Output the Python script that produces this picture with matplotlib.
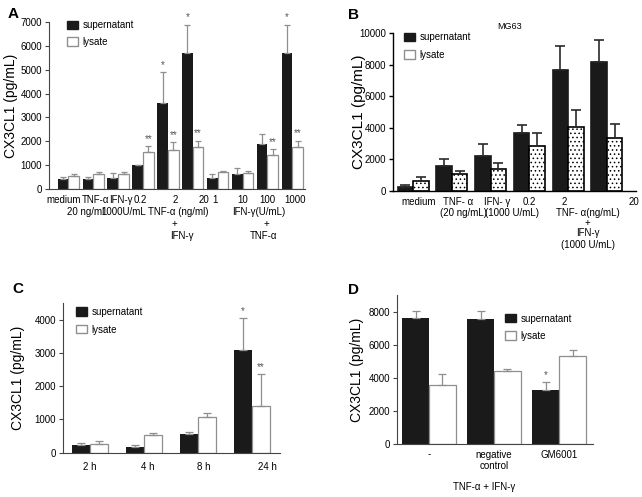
import numpy as np
import matplotlib.pyplot as plt
from matplotlib.patches import Patch

plt.rcParams['font.family'] = ['Liberation Sans', 'DejaVu Sans']
plt.rcParams['hatch.linewidth'] = 0.6
plt.rcParams['hatch.color'] = '#333333'

# ---- data ----
# A
a_labels = ['medium', 'TNF-α', 'IFN-γ', '0.2', '2', '20', '1', '10', '100', '1000']
a_sup = [400, 420, 450, 1020, 3620, 5720, 450, 620, 1880, 5720]
a_sup_err = [100, 90, 240, 0, 1290, 1170, 180, 260, 420, 1170]
a_lys = [540, 650, 620, 1540, 1640, 1740, 730, 670, 1420, 1740]
a_lys_err = [80, 50, 90, 260, 310, 290, 40, 80, 250, 290]
a_sup_sig = ['', '', '', '', '*', '*', '', '', '', '*']
a_lys_sig = ['', '', '', '**', '**', '**', '', '', '**', '**']

# B
b_labels = ['medium', 'TNF- α', 'IFN- γ', '0.2', '2', '20']
b_sup = [280, 1600, 2220, 3700, 7670, 8140]
b_sup_err = [100, 400, 760, 460, 1480, 1390]
b_lys = [630, 1060, 1370, 2875, 4040, 3340]
b_lys_err = [240, 210, 380, 785, 1100, 910]

# C
c_labels = ['2 h', '4 h', '8 h', '24 h']
c_sup = [220, 180, 560, 3095]
c_sup_err = [80, 40, 70, 955]
c_lys = [260, 520, 1065, 1410]
c_lys_err = [100, 70, 120, 950]
c_sup_sig = ['', '', '', '*']
c_lys_sig = ['', '', '', '**']

# D
d_labels = ['-', 'negative\ncontrol', 'GM6001']
d_sup = [7600, 7560, 3290]
d_sup_err = [440, 480, 450]
d_lys = [3580, 4400, 5310]
d_lys_err = [660, 150, 350]
d_sup_sig = ['', '', '*']
d_lys_sig = ['', '', '']

BLACK = '#1a1a1a'
GRAY = '#8f8f8f'

fig = plt.figure(figsize=(6.42, 4.97), dpi=100)


def draw_pairs(ax, sup, sup_err, lys, lys_err, w, ecol, lw, cap, hatch=None,
               sup_sig=None, lys_sig=None, errcol=None):
    x = np.arange(len(sup))
    errcol = errcol or ecol
    ax.bar(x - w / 2, sup, w, color=BLACK, edgecolor=BLACK if hatch else 'none', linewidth=lw)
    ax.bar(x + w / 2, lys, w, color='white', edgecolor=ecol, hatch=hatch, linewidth=lw)
    ax.errorbar(x - w / 2, sup, yerr=[np.zeros(len(sup)), sup_err], fmt='none',
                ecolor=errcol, elinewidth=lw, capsize=cap, capthick=lw)
    ax.errorbar(x + w / 2, lys, yerr=[np.zeros(len(lys)), lys_err], fmt='none',
                ecolor=errcol, elinewidth=lw, capsize=cap, capthick=lw)
    if sup_sig:
        for i in range(len(sup)):
            if sup_sig[i]:
                ax.annotate(sup_sig[i], (x[i] - w / 2, sup[i] + sup_err[i]), xytext=(0, 1.5),
                            textcoords='offset points', ha='center', va='bottom',
                            fontsize=7, color='#555555')
    if lys_sig:
        for i in range(len(lys)):
            if lys_sig[i]:
                ax.annotate(lys_sig[i], (x[i] + w / 2, lys[i] + lys_err[i]), xytext=(0, 1.5),
                            textcoords='offset points', ha='center', va='bottom',
                            fontsize=7, color='#555555')


def style(ax, col, lw):
    for s in ['top', 'right']:
        ax.spines[s].set_visible(False)
    for s in ['left', 'bottom']:
        ax.spines[s].set_color(col)
        ax.spines[s].set_linewidth(lw)
    ax.tick_params(axis='y', direction='out', length=3, width=lw, color=col,
                   labelsize=7, pad=2)
    ax.tick_params(axis='x', length=0, labelsize=7)


def under(ax, x, text, dy):
    ax.annotate(text, xy=(x, 0), xycoords=('data', 'axes fraction'), xytext=(0, -dy),
                textcoords='offset points', ha='center', va='center', fontsize=7,
                annotation_clip=False)


def legend(ax, anchor, lys_edge, spacing):
    h = [Patch(facecolor=BLACK, edgecolor=BLACK), Patch(facecolor='white', edgecolor=lys_edge)]
    ax.legend(h, ['supernatant', 'lysate'], loc='upper left', bbox_to_anchor=anchor,
              frameon=False, fontsize=7, handlelength=1.15, handleheight=0.95,
              handletextpad=0.45, labelspacing=spacing, borderpad=0, borderaxespad=0)


# ---- A ----
axA = fig.add_axes([0.0763, 0.6197, 0.3988, 0.336])
draw_pairs(axA, a_sup, a_sup_err, a_lys, a_lys_err, 0.43, GRAY, 0.9, 2.5,
           sup_sig=a_sup_sig, lys_sig=a_lys_sig)
axA.set_xlim(-0.78, 9.51)
axA.set_ylim(0, 7000)
axA.set_yticks(np.arange(0, 7001, 1000))
axA.set_xticks([])
style(axA, '#444444', 0.8)
axA.set_ylabel('CX3CL1 (pg/mL)', fontsize=10)
axA.yaxis.set_label_coords(-0.121, 0.5)
legend(axA, (0.07, 1.01), GRAY, 0.65)
a_label_x = [-0.2, 1.1, 2.1, 2.9, 4.3, 5.45, 5.9, 7.0, 8.0, 9.1]
for xx, t in zip(a_label_x, a_labels):
    under(axA, xx, t, 8)
under(axA, 0.68, '20 ng/ml', 16.5)
under(axA, 2.24, '1000U/mL', 16.5)
under(axA, 4.4, 'TNF-α (ng/ml)', 16.5)
under(axA, 7.67, 'IFN-γ(U/mL)', 16.5)
under(axA, 4.28, '+', 25)
under(axA, 7.97, '+', 25)
under(axA, 4.55, 'IFN-γ', 34)
under(axA, 7.83, 'TNF-α', 34)

# ---- B ----
axB = fig.add_axes([0.6121, 0.6157, 0.3785, 0.3179])
draw_pairs(axB, b_sup, b_sup_err, b_lys, b_lys_err, 0.40, 'black', 1.2, 3.3,
           hatch='....', errcol='#2a2a2a')
axB.set_xlim(-0.52, 5.75)
axB.set_ylim(0, 10000)
axB.set_yticks(np.arange(0, 10001, 2000))
axB.set_xticks([])
style(axB, 'black', 1.0)
axB.set_ylabel('CX3CL1 (pg/mL)', fontsize=11)
axB.yaxis.set_label_coords(-0.111, 0.5)
legend(axB, (0.045, 1.005), GRAY, 0.8)
axB.text(0.48, 1.038, 'MG63', transform=axB.transAxes, ha='center', va='center', fontsize=6.5)
b_label_x = [0.13, 1.17, 2.18, 3.0, 3.89, 5.7]
for xx, t in zip(b_label_x, b_labels):
    under(axB, xx, t, 7.7)
under(axB, 1.3, '(20 ng/mL)', 15.6)
under(axB, 2.56, '(1000 U/mL)', 15.6)
under(axB, 4.5, 'TNF- α(ng/mL)', 15.6)
under(axB, 4.5, '+', 23)
under(axB, 4.5, 'IFN-γ', 30.5)
under(axB, 4.5, '(1000 U/mL)', 39)

# ---- C ----
axC = fig.add_axes([0.0981, 0.0891, 0.338, 0.3012])
draw_pairs(axC, c_sup, c_sup_err, c_lys, c_lys_err, 0.33, GRAY, 0.9, 3,
           sup_sig=c_sup_sig, lys_sig=c_lys_sig)
axC.set_xlim(-0.5, 3.52)
axC.set_ylim(0, 4500)
axC.set_yticks(np.arange(0, 4001, 1000))
style(axC, '#444444', 0.8)
axC.set_xticks(np.arange(len(c_labels)) + np.array([0, 0.07, 0.1, 0.28]))
axC.set_xticklabels(c_labels)
axC.tick_params(axis='x', pad=7)
axC.set_ylabel('CX3CL1 (pg/mL)', fontsize=10)
axC.yaxis.set_label_coords(-0.175, 0.5)
legend(axC, (0.06, 0.975), GRAY, 0.8)

# ---- D ----
axD = fig.add_axes([0.6184, 0.1066, 0.3053, 0.2998])
draw_pairs(axD, d_sup, d_sup_err, d_lys, d_lys_err, 0.41, GRAY, 0.9, 2.6,
           sup_sig=d_sup_sig, lys_sig=d_lys_sig)
axD.set_xlim(-0.49, 2.52)
axD.set_ylim(0, 9000)
axD.set_yticks(np.arange(0, 8001, 2000))
style(axD, '#444444', 0.8)
axD.set_xticks(np.arange(len(d_labels)))
axD.set_xticklabels(d_labels)
axD.tick_params(axis='x', pad=4)
axD.set_ylabel('CX3CL1 (pg/mL)', fontsize=10)
axD.yaxis.set_label_coords(-0.168, 0.5)
legend(axD, (0.551, 0.875), GRAY, 0.75)
under(axD, 0.85, 'TNF-α + IFN-γ', 31)

# panel letters
for t, x, y in [('A', 8, 7), ('B', 348, 8), ('C', 12, 282), ('D', 348, 283)]:
    fig.text(x / 642, 1 - y / 497, t, fontsize=11, fontweight='bold', ha='left', va='top')

fig.savefig('out.png', dpi=100)
